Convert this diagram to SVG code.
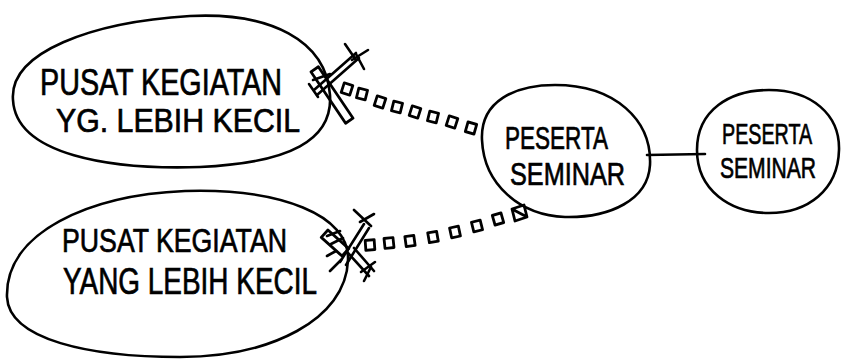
<svg xmlns="http://www.w3.org/2000/svg" xmlns:xlink="http://www.w3.org/1999/xlink" width="843" height="360" viewBox="0 0 843 360">
  <style>
    .ink { fill: none; stroke: #000; stroke-width: 2.6; stroke-linecap: round; stroke-linejoin: round; }
    .hollow { fill: #fff; stroke: #000; stroke-width: 2.8; stroke-linejoin: round; }
    .label { font-family: "Liberation Sans", "DejaVu Sans", sans-serif; fill: #000; stroke: #000; stroke-width: 0.7; }
  </style>
  <defs>
    <!-- one link of the chain connector -->
    <rect id="link" x="-4.5" y="-5" width="9" height="10" class="hollow"/>
  </defs>
  <rect width="843" height="360" fill="#fff"/>

  <!-- connectors: chains of links, crossing barriers and a plain line -->
  <g id="connectors">
    <!-- upper chain -->
    <g id="chain-upper">
      <use xlink:href="#link" transform="translate(347,89) rotate(18)"/>
      <use xlink:href="#link" transform="translate(362,94) rotate(14)"/>
      <use xlink:href="#link" transform="translate(380,102) rotate(18)"/>
      <use xlink:href="#link" transform="translate(397,107) rotate(14)"/>
      <use xlink:href="#link" transform="translate(415,112) rotate(18)"/>
      <use xlink:href="#link" transform="translate(433,117) rotate(14)"/>
      <use xlink:href="#link" transform="translate(452,122) rotate(18)"/>
      <use xlink:href="#link" transform="translate(471,128) rotate(16)"/>
    </g>
    <!-- upper barrier -->
    <g id="barrier-upper">
      <rect x="-31" y="-4.5" width="62" height="9" class="hollow" transform="translate(332,95) rotate(56)"/>
      <path class="ink" d="M314,90 L356,53 M317,95 L359,58"/>
      <path class="ink" d="M345,44 L356,60 M356,54 L364,69 M352,60 L368,50"/>
      <path class="ink" d="M309,84 L318,97 M313,80 L330,74"/>
    </g>
    <!-- lower chain -->
    <g id="chain-lower">
      <use xlink:href="#link" transform="translate(370,245) rotate(-4)"/>
      <use xlink:href="#link" transform="translate(389,243) rotate(-6)"/>
      <use xlink:href="#link" transform="translate(410,241) rotate(-8)"/>
      <use xlink:href="#link" transform="translate(433,237) rotate(-10)"/>
      <use xlink:href="#link" transform="translate(455,232) rotate(-12)"/>
      <use xlink:href="#link" transform="translate(477,226) rotate(-14)"/>
      <use xlink:href="#link" transform="translate(498,219) rotate(-16)"/>
      <path class="hollow" d="M512,209 L524,205 L527,217 L515,221 Z M512,209 L527,217"/>
    </g>
    <!-- lower barrier -->
    <g id="barrier-lower">
      <rect x="-14" y="-5" width="28" height="10" class="hollow" transform="translate(335,243) rotate(42)"/>
      <path class="ink" d="M327,236 L340,231 M331,244 L343,238 M336,251 L327,256"/>
      <path class="ink" d="M348,253 L369,276 M354,248 L374,271"/>
      <path class="ink" d="M361,272 L375,262 M364,281 L371,267"/>
      <path class="ink" d="M340,262 L364,224 M346,265 L369,228"/>
      <path class="ink" d="M354,210 L371,226 M360,222 L374,214 M330,271 L341,260"/>
    </g>
    <!-- plain link between the two participant circles -->
    <path id="line-peserta" class="ink" d="M647,155 L705,154"/>
  </g>

  <!-- upper activity centre -->
  <g id="node-pusat-atas">
    <path class="ink" d="M13,100 C9,52 92,22 190,16 C270,12 326,40 330,95 C333,140 290,163 200,167 C110,170 16,155 13,100 Z"/>
    <text class="label" x="40" y="95" font-size="36" textLength="242" lengthAdjust="spacingAndGlyphs">PUSAT KEGIATAN</text>
    <text class="label" x="56" y="132" font-size="34" textLength="244" lengthAdjust="spacingAndGlyphs">YG. LEBIH KECIL</text>
  </g>

  <!-- lower activity centre -->
  <g id="node-pusat-bawah">
    <path class="ink" d="M7,297 C5,232 90,195 185,191 C280,188 350,215 348,260 C346,320 270,357 180,357 C90,357 9,340 7,297 Z"/>
    <text class="label" x="62" y="252" font-size="34" textLength="225" lengthAdjust="spacingAndGlyphs">PUSAT KEGIATAN</text>
    <text class="label" x="63" y="294" font-size="36" textLength="254" lengthAdjust="spacingAndGlyphs">YANG LEBIH KECIL</text>
  </g>

  <!-- central participants -->
  <g id="node-peserta-1">
    <path class="ink" d="M482,140 C480,101 515,85 555,85 C615,85 652,120 650,165 C648,200 610,218 565,217 C520,215 484,185 482,140 Z"/>
    <text class="label" x="505" y="149" font-size="32" textLength="103" lengthAdjust="spacingAndGlyphs">PESERTA</text>
    <text class="label" x="510" y="185" font-size="32" textLength="115" lengthAdjust="spacingAndGlyphs">SEMINAR</text>
  </g>

  <!-- outer participants: condensed by a horizontal scale -->
  <g id="node-peserta-2">
    <path class="ink" d="M697,150 C697,110 730,90 769,90 C812,90 840,115 839,150 C838,190 808,213 769,213 C730,213 697,190 697,150 Z"/>
    <text class="label" font-size="29" transform="translate(722,144) scale(0.68,1)">PESERTA</text>
    <text class="label" font-size="29" transform="translate(720,178) scale(0.727,1)">SEMINAR</text>
  </g>
</svg>
